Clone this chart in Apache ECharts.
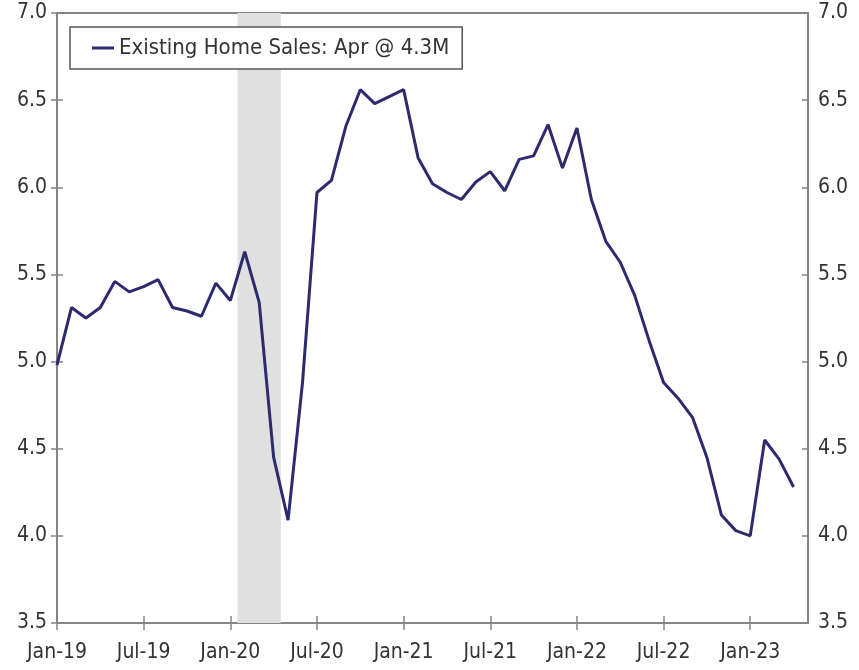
<!DOCTYPE html>
<html>
<head>
<meta charset="utf-8">
<script src="https://cdn.jsdelivr.net/npm/echarts@6/dist/echarts.min.js"></script>
<style>
html,body{margin:0;padding:0;background:#fff;}
#chart{width:859px;height:670px;}
</style>
</head>
<body>
<div id="chart"></div>
<script>
var months = ['Jan-19','Feb-19','Mar-19','Apr-19','May-19','Jun-19','Jul-19','Aug-19','Sep-19','Oct-19','Nov-19','Dec-19',
  'Jan-20','Feb-20','Mar-20','Apr-20','May-20','Jun-20','Jul-20','Aug-20','Sep-20','Oct-20','Nov-20','Dec-20',
  'Jan-21','Feb-21','Mar-21','Apr-21','May-21','Jun-21','Jul-21','Aug-21','Sep-21','Oct-21','Nov-21','Dec-21',
  'Jan-22','Feb-22','Mar-22','Apr-22','May-22','Jun-22','Jul-22','Aug-22','Sep-22','Oct-22','Nov-22','Dec-22',
  'Jan-23','Feb-23','Mar-23','Apr-23','May-23'];
var homeSales = [4.98,5.31,5.25,5.31,5.46,5.40,5.43,5.47,5.31,5.29,5.26,5.45,
  5.35,5.63,5.34,4.45,4.09,4.88,5.97,6.04,6.35,6.56,6.48,6.52,
  6.56,6.17,6.02,5.97,5.93,6.03,6.09,5.98,6.16,6.18,6.36,6.11,
  6.34,5.93,5.69,5.57,5.38,5.12,4.88,4.79,4.68,4.45,4.12,4.03,
  4.00,4.55,4.44,4.28];
var recession = ['Feb-20','Apr-20'];
var seriesName = 'Existing Home Sales: Apr @ 4.3M';
var yMin = 3.5, yMax = 7.0, yStep = 0.5;
var xStep = 6;

var FONT = "'DejaVu Sans Condensed', 'Liberation Sans', sans-serif";
var AX = '#858585';
var TXT = '#333';

var points = homeSales.map(function(v, i){ return [i, v]; });
var recStart = months.indexOf(recession[0]) - 0.5;
var recEnd = months.indexOf(recession[1]) + 0.5;

function xAx(grid, showLabel, inside, pos){
  return {
    type: 'value', gridIndex: grid, position: pos || 'bottom',
    min: 0, max: months.length - 1, interval: xStep,
    axisLine: {show: true, lineStyle: {color: AX, width: 2}},
    axisTick: {show: pos !== 'top', inside: inside, length: 7, lineStyle: {color: AX, width: 1.5}},
    axisLabel: {show: showLabel, showMaxLabel: false, margin: 19, color: TXT, fontSize: 21, fontFamily: FONT,
      formatter: function(v){ return months[v] || ''; }},
    splitLine: {show: false}
  };
}
function yAx(grid, pos, showLabel, inside){
  return {
    type: 'value', gridIndex: grid, position: pos,
    min: yMin, max: yMax, interval: yStep,
    axisLine: {show: true, lineStyle: {color: AX, width: 2}},
    axisTick: {show: true, inside: inside, length: 6, lineStyle: {color: AX, width: 1.5}},
    axisLabel: {show: showLabel, margin: 10, color: TXT, fontSize: 21, fontFamily: FONT,
      formatter: function(v){ return v.toFixed(1); }},
    splitLine: {show: false}
  };
}

var chart = echarts.init(document.getElementById('chart'), null, {renderer: 'canvas'});
chart.setOption({
  animation: false,
  backgroundColor: '#fff',
  grid: [
    {left: 57, right: 51, top: 13, bottom: 47},
    {left: 57, right: 51, top: 13, bottom: 47}
  ],
  xAxis: [
    xAx(0, true, false, 'bottom'),
    xAx(0, false, false, 'top'),
    xAx(1, false, true, 'bottom')
  ],
  yAxis: [
    yAx(0, 'left', true, false),
    yAx(0, 'right', true, false),
    yAx(1, 'left', false, true),
    yAx(1, 'right', false, true)
  ],
  legend: {
    left: 70, top: 27,
    padding: [10, 13, 10, 22],
    borderColor: '#555', borderWidth: 1.5,
    backgroundColor: '#fff',
    itemWidth: 22, itemHeight: 3,
    icon: 'rect',
    textStyle: {color: TXT, fontSize: 22, fontFamily: FONT},
    data: [seriesName]
  },
  series: [{
    name: seriesName,
    type: 'line',
    xAxisIndex: 0, yAxisIndex: 0,
    data: points,
    symbol: 'none',
    lineStyle: {color: '#2d2a6e', width: 3},
    itemStyle: {color: '#2d2a6e'},
    markArea: {
      silent: true,
      itemStyle: {color: '#e0e0e0'},
      data: [[{xAxis: recStart}, {xAxis: recEnd}]]
    }
  }]
});
</script>
</body>
</html>
